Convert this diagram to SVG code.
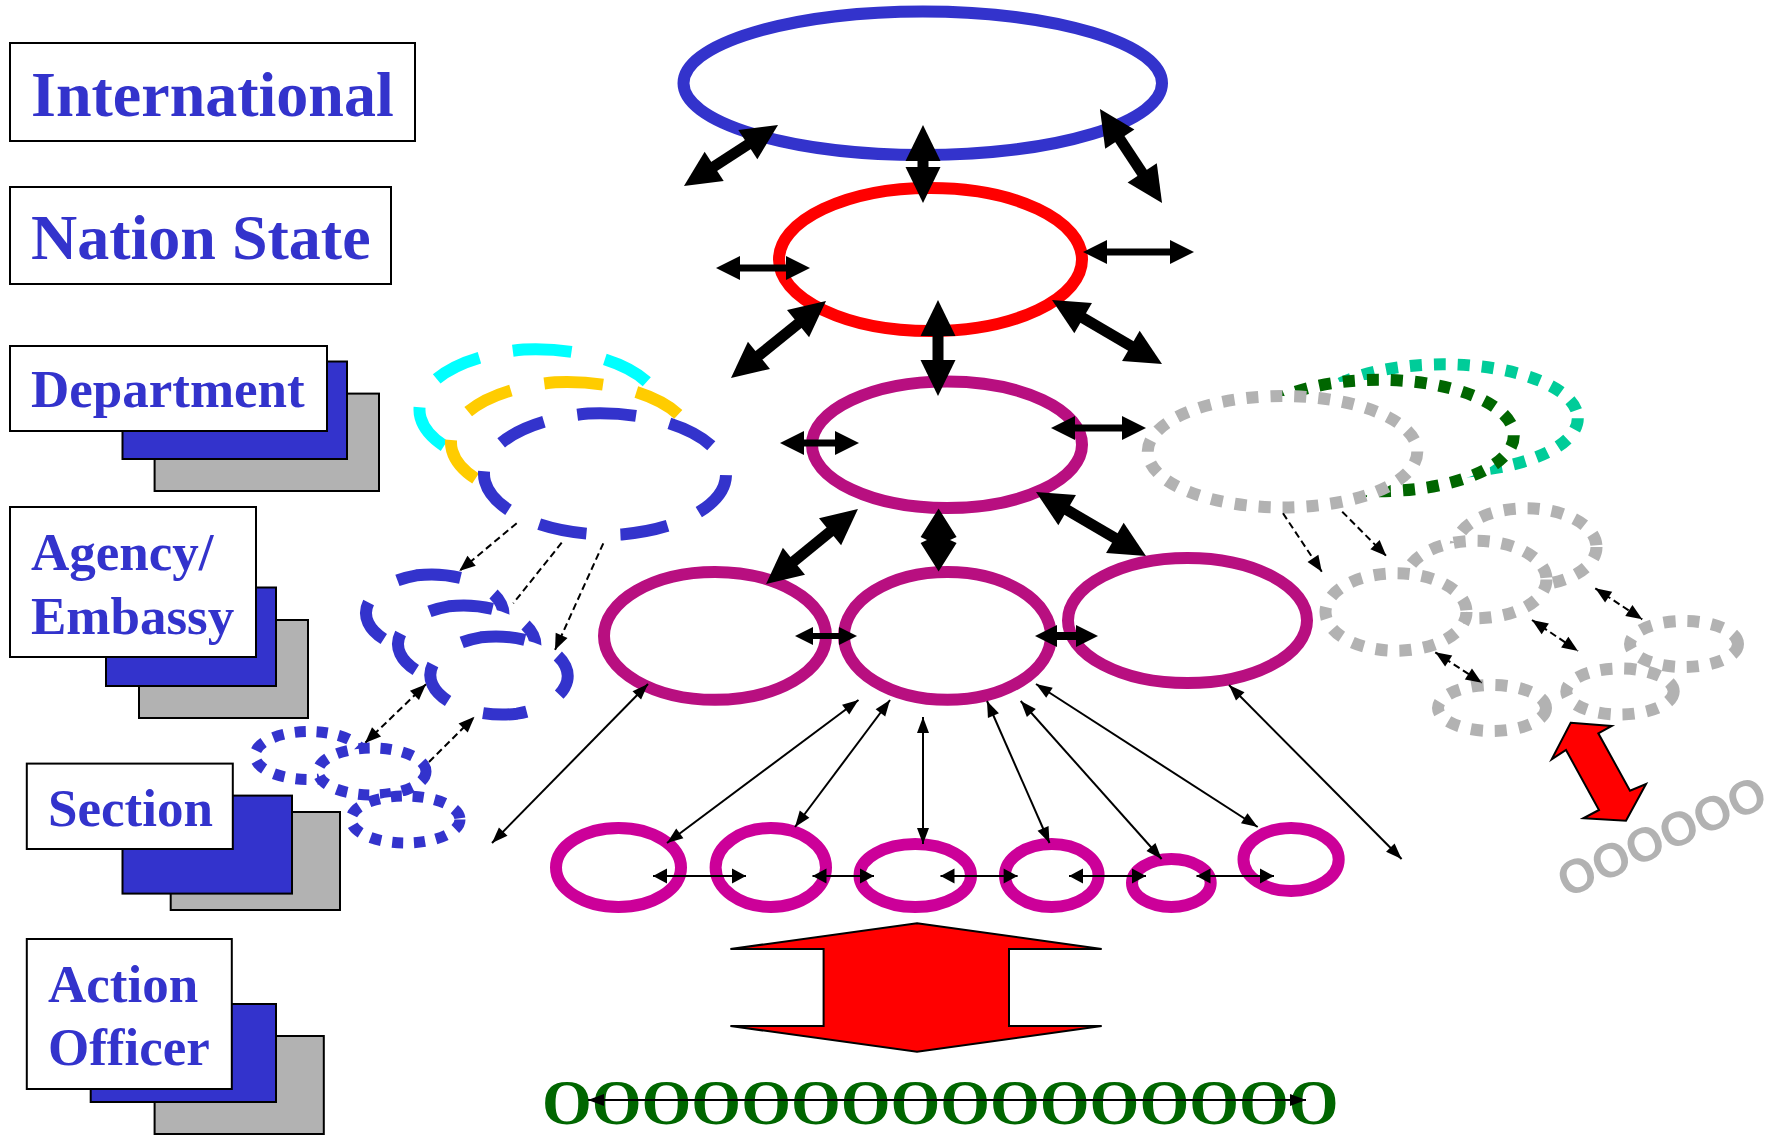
<svg xmlns="http://www.w3.org/2000/svg" width="1773" height="1135" viewBox="0 0 1773 1135">
<style>
.box{stroke:#000;stroke-width:2}
.w{fill:#fff}
.b{fill:#3333CC}
.g{fill:#B2B2B2}
.lbl{font-family:"Liberation Serif","Times New Roman",serif;font-weight:bold;fill:#3333CC}
.ell{fill:none;stroke-width:12}
.dept{fill:#fff;stroke-width:12;stroke-dasharray:48 34}
.ag{fill:#fff;stroke:#3333CC;stroke-width:12;stroke-dasharray:44 37}
.sec{fill:#fff;stroke:#3333CC;stroke-width:11;stroke-dasharray:11 11}
.gdot{fill:#fff;stroke-width:12;stroke-dasharray:12 12}
.thick{stroke:#000;fill:none}
.thin{stroke:#000;stroke-width:2;fill:none}
.dash{stroke:#000;stroke-width:2;stroke-dasharray:7 4;fill:none}
</style>
<defs>
<marker id="mA" markerUnits="userSpaceOnUse" markerWidth="36" markerHeight="35" refX="2" refY="17.5" orient="auto-start-reverse" overflow="visible"><path d="M0,0 L36,17.5 L0,35 Z" fill="#000"/></marker>
<marker id="mB" markerUnits="userSpaceOnUse" markerWidth="24" markerHeight="24" refX="2" refY="12" orient="auto-start-reverse" overflow="visible"><path d="M0,0 L24,12 L0,24 Z" fill="#000"/></marker>
<marker id="mB5" markerUnits="userSpaceOnUse" markerWidth="18" markerHeight="18" refX="2" refY="9" orient="auto-start-reverse" overflow="visible"><path d="M0,0 L18,9 L0,18 Z" fill="#000"/></marker>
<marker id="mB6" markerUnits="userSpaceOnUse" markerWidth="22" markerHeight="22" refX="2" refY="11" orient="auto-start-reverse" overflow="visible"><path d="M0,0 L22,11 L0,22 Z" fill="#000"/></marker>
<marker id="mC" markerUnits="userSpaceOnUse" markerWidth="16" markerHeight="12" refX="16" refY="6" orient="auto-start-reverse" overflow="visible"><path d="M0,0 L16,6 L0,12 Z" fill="#000"/></marker>
<marker id="mR" markerUnits="userSpaceOnUse" markerWidth="14" markerHeight="15" refX="14" refY="7.5" orient="auto-start-reverse" overflow="visible"><path d="M0,0 L14,7.5 L0,15 Z" fill="#000"/></marker>
<marker id="mD" markerUnits="userSpaceOnUse" markerWidth="16" markerHeight="13" refX="16" refY="6.5" orient="auto-start-reverse" overflow="visible"><path d="M0,0 L16,6.5 L0,13 Z" fill="#000"/></marker>
</defs>

<g id="label-international">
<rect class="box w" x="10" y="43" width="405" height="98"/>
<text class="lbl" x="31" y="116" font-size="64">International</text>
</g>
<g id="label-nation-state">
<rect class="box w" x="10" y="187" width="381" height="97"/>
<text class="lbl" x="31" y="259" font-size="64">Nation State</text>
</g>
<g id="label-department">
<rect class="box g" x="154.6" y="393.6" width="224.4" height="97.4"/>
<rect class="box b" x="122.5" y="361.5" width="224.5" height="97.5"/>
<rect class="box w" x="10" y="346" width="317" height="85"/>
<text class="lbl" x="31" y="407" font-size="53">Department</text>
</g>
<g id="label-agency">
<rect class="box g" x="139" y="620" width="169" height="98"/>
<rect class="box b" x="106" y="587.5" width="170" height="98.5"/>
<rect class="box w" x="10" y="507" width="246" height="150"/>
<text class="lbl" x="31" y="570" font-size="53">Agency/</text>
<text class="lbl" x="31" y="633.6" font-size="53">Embassy</text>
</g>
<g id="label-section">
<rect class="box g" x="170.7" y="812" width="169.3" height="98"/>
<rect class="box b" x="122.5" y="795.6" width="169.5" height="98"/>
<rect class="box w" x="26.8" y="763.6" width="206" height="85.4"/>
<text class="lbl" x="48" y="826" font-size="53">Section</text>
</g>
<g id="label-action-officer">
<rect class="box g" x="154.6" y="1036" width="169.2" height="98"/>
<rect class="box b" x="90.7" y="1004" width="185.3" height="98"/>
<rect class="box w" x="26.8" y="939" width="205" height="150"/>
<text class="lbl" x="48" y="1002" font-size="53">Action</text>
<text class="lbl" x="48" y="1065" font-size="53">Officer</text>
</g>

<g id="dept-cluster">
<path class="dept" stroke="#00FFFF" d="M523.6,349.6 A126,61 0 0 1 557.4,470.4 A126,61 0 0 1 523.6,349.6 Z"/>
<path class="dept" stroke="#FFCC00" d="M555.1,382.3 A126,61 0 0 1 588.9,503.1 A126,61 0 0 1 555.1,382.3 Z"/>
<path class="dept" stroke="#3333CC" d="M588.1,413.6 A126,61 0 0 1 621.9,534.4 A126,61 0 0 1 588.1,413.6 Z"/>
</g>
<g id="agency-cluster">
<path class="ag" d="M416.7,575.3 A72,39.5 0 0 1 452.7,651.7 A72,39.5 0 0 1 416.7,575.3 Z"/>
<path class="ag" d="M448.7,606.3 A72,39.5 0 0 1 484.7,682.7 A72,39.5 0 0 1 448.7,606.3 Z"/>
<path class="ag" d="M481,637.3 A72,39.5 0 0 1 517,713.7 A72,39.5 0 0 1 481,637.3 Z"/>
</g>
<g id="section-cluster">
<ellipse class="sec" cx="309" cy="755.5" rx="54" ry="24"/>
<ellipse class="sec" cx="372" cy="771.5" rx="54" ry="23.5"/>
<ellipse class="sec" cx="405.5" cy="819.5" rx="54.5" ry="23.5"/>
</g>

<g id="node-international"><ellipse class="ell" stroke="#3333CC" cx="922.75" cy="83.25" rx="239.25" ry="71.75"/></g>
<g id="node-nation"><ellipse class="ell" stroke="#FF0000" cx="930.5" cy="259.5" rx="151.5" ry="71.5"/></g>
<g id="node-department"><ellipse class="ell" stroke="#B80F80" cx="947" cy="444.75" rx="135" ry="63.25"/></g>
<g id="node-agency-1"><ellipse class="ell" stroke="#B80F80" cx="715" cy="635.9" rx="111" ry="63.9"/></g>
<g id="node-agency-2"><ellipse class="ell" stroke="#B80F80" cx="947.5" cy="635.9" rx="103.5" ry="63.9"/></g>
<g id="node-agency-3"><ellipse class="ell" stroke="#B80F80" cx="1187.5" cy="620.5" rx="119.5" ry="62.5"/></g>
<g id="node-section-1"><ellipse class="ell" stroke="#CC0099" cx="618.5" cy="867.5" rx="62.5" ry="39.5"/></g>
<g id="node-section-2"><ellipse class="ell" stroke="#CC0099" cx="770.8" cy="867.5" rx="55.2" ry="39.5"/></g>
<g id="node-section-3"><ellipse class="ell" stroke="#CC0099" cx="915.25" cy="875.5" rx="55.75" ry="31.5"/></g>
<g id="node-section-4"><ellipse class="ell" stroke="#CC0099" cx="1051.8" cy="875.5" rx="46.8" ry="31.5"/></g>
<g id="node-section-5"><ellipse class="ell" stroke="#CC0099" cx="1171.35" cy="883" rx="39.35" ry="24"/></g>
<g id="node-section-6"><ellipse class="ell" stroke="#CC0099" cx="1291.1" cy="859.5" rx="47.6" ry="31.5"/></g>

<g id="gray-dept-cluster">
<ellipse class="gdot" stroke="#00CC99" cx="1443" cy="418.3" rx="134.8" ry="54"/>
<ellipse class="gdot" stroke="#006600" cx="1379" cy="435.5" rx="134.8" ry="55.7"/>
<ellipse class="gdot" stroke="#B2B2B2" cx="1282.5" cy="451.7" rx="134.8" ry="55.7"/>
</g>
<g id="gray-agency-cluster">
<ellipse class="gdot" stroke="#B2B2B2" cx="1526" cy="547" rx="70.5" ry="38.7"/>
<ellipse class="gdot" stroke="#B2B2B2" cx="1476" cy="579.5" rx="70.5" ry="38.7"/>
<ellipse class="gdot" stroke="#B2B2B2" cx="1396" cy="612" rx="70.5" ry="38.7"/>
</g>
<g id="gray-section-cluster">
<ellipse class="gdot" stroke="#B2B2B2" cx="1684" cy="644" rx="54" ry="23"/>
<ellipse class="gdot" stroke="#B2B2B2" cx="1620" cy="691.5" rx="53.7" ry="23"/>
<ellipse class="gdot" stroke="#B2B2B2" cx="1492" cy="708" rx="54" ry="23"/>
</g>

<g id="individuals-gray">
<text transform="translate(1567,898.6) rotate(-24.8)" font-family="'Liberation Sans',Arial,sans-serif" font-weight="bold" font-size="48" fill="#B2B2B2">OOOOOO</text>
</g>
<g id="individuals-green">
<text x="542" y="1124" font-family="'Liberation Serif','Times New Roman',serif" font-weight="bold" font-size="64" fill="#006600">OOOOOOOOOOOOOOOO</text>
</g>

<g id="connectors">
<line class="thick" stroke-width="11" x1="712.5" y1="167.5" x2="749.5" y2="143.5" marker-start="url(#mA)" marker-end="url(#mA)"/>
<line class="thick" stroke-width="11" x1="923" y1="159" x2="923" y2="169" marker-start="url(#mA)" marker-end="url(#mA)"/>
<line class="thick" stroke-width="11" x1="1118.7" y1="137.4" x2="1143.3" y2="174.6" marker-start="url(#mA)" marker-end="url(#mA)"/>
<line class="thick" stroke-width="11" x1="757.4" y1="356.6" x2="799.6" y2="322.4" marker-start="url(#mA)" marker-end="url(#mA)"/>
<line class="thick" stroke-width="11" x1="938" y1="334" x2="938" y2="362" marker-start="url(#mA)" marker-end="url(#mA)"/>
<line class="thick" stroke-width="11" x1="1081.4" y1="317.1" x2="1132.6" y2="346.9" marker-start="url(#mA)" marker-end="url(#mA)"/>
<line class="thick" stroke-width="11" x1="792.4" y1="562.5" x2="831.6" y2="530.5" marker-start="url(#mA)" marker-end="url(#mA)"/>
<polygon points="938.6,508.6 956.6,537 950,540 956.6,543 938.6,571.5 920.6,543 927,540 920.6,537" fill="#000"/>
<line class="thick" stroke-width="11" x1="1065.4" y1="509.1" x2="1116.6" y2="538.9" marker-start="url(#mA)" marker-end="url(#mA)"/>

<line class="thick" stroke-width="7" x1="738" y1="268" x2="788" y2="268" marker-start="url(#mB)" marker-end="url(#mB)"/>
<line class="thick" stroke-width="7" x1="1105" y1="252" x2="1172" y2="252" marker-start="url(#mB)" marker-end="url(#mB)"/>
<line class="thick" stroke-width="7" x1="802" y1="443" x2="837" y2="443" marker-start="url(#mB)" marker-end="url(#mB)"/>
<line class="thick" stroke-width="7" x1="1073" y1="428" x2="1124" y2="428" marker-start="url(#mB)" marker-end="url(#mB)"/>
<line class="thick" stroke-width="6" x1="811" y1="636" x2="841" y2="636" marker-start="url(#mB5)" marker-end="url(#mB5)"/>
<line class="thick" stroke-width="8" x1="1055" y1="636" x2="1078" y2="636" marker-start="url(#mB6)" marker-end="url(#mB6)"/>

<line class="thin" x1="648" y1="684" x2="492" y2="843" marker-start="url(#mC)" marker-end="url(#mC)"/>
<line class="thin" x1="858.5" y1="700" x2="667" y2="843" marker-start="url(#mC)" marker-end="url(#mC)"/>
<line class="thin" x1="890" y1="700" x2="795" y2="827" marker-start="url(#mC)" marker-end="url(#mC)"/>
<line class="thin" x1="923" y1="717" x2="923" y2="844" marker-start="url(#mC)" marker-end="url(#mC)"/>
<line class="thin" x1="987" y1="701" x2="1049.5" y2="843" marker-start="url(#mC)" marker-end="url(#mC)"/>
<line class="thin" x1="1020.7" y1="701" x2="1161.6" y2="859" marker-start="url(#mC)" marker-end="url(#mC)"/>
<line class="thin" x1="1036" y1="684" x2="1257.7" y2="827" marker-start="url(#mC)" marker-end="url(#mC)"/>
<line class="thin" x1="1229" y1="685" x2="1401.6" y2="859" marker-start="url(#mC)" marker-end="url(#mC)"/>

<line class="thin" stroke-width="3" x1="653" y1="876" x2="746" y2="876" marker-start="url(#mR)" marker-end="url(#mR)"/>
<line class="thin" stroke-width="3" x1="812.5" y1="876" x2="874" y2="876" marker-start="url(#mR)" marker-end="url(#mR)"/>
<line class="thin" stroke-width="3" x1="940.5" y1="876" x2="1017.6" y2="876" marker-start="url(#mR)" marker-end="url(#mR)"/>
<line class="thin" stroke-width="3" x1="1069" y1="876" x2="1146" y2="876" marker-start="url(#mR)" marker-end="url(#mR)"/>
<line class="thin" stroke-width="3" x1="1196.5" y1="876" x2="1274" y2="876" marker-start="url(#mR)" marker-end="url(#mR)"/>

<line class="dash" x1="516.7" y1="523.3" x2="459.3" y2="571" marker-end="url(#mD)"/>
<line class="dash" x1="561.7" y1="542.7" x2="513.3" y2="603.3"/>
<line class="dash" x1="603.3" y1="543.3" x2="555" y2="650" marker-end="url(#mD)"/>
<line class="dash" x1="426" y1="684.3" x2="365" y2="743" marker-start="url(#mD)" marker-end="url(#mD)"/>
<line class="dash" x1="429" y1="762" x2="474.5" y2="716.7" marker-end="url(#mD)"/>
<line class="dash" x1="1283" y1="513.3" x2="1321.8" y2="571.7" marker-end="url(#mD)"/>
<line class="dash" x1="1342.2" y1="511.7" x2="1386.3" y2="556" marker-end="url(#mD)"/>
<line class="dash" x1="1435.3" y1="652.3" x2="1481.8" y2="682.7" marker-start="url(#mD)" marker-end="url(#mD)"/>
<line class="dash" x1="1532" y1="620" x2="1578" y2="651" marker-start="url(#mD)" marker-end="url(#mD)"/>
<line class="dash" x1="1595.3" y1="588.3" x2="1642.2" y2="619.3" marker-start="url(#mD)" marker-end="url(#mD)"/>

<line class="thin" stroke-width="3" x1="588" y1="1100" x2="1306" y2="1100" marker-start="url(#mC)" marker-end="url(#mC)"/>

<polygon points="917,923.3 1101.7,949 1009,949 1009,1026 1101.7,1026 917,1051.7 730.4,1026 823.6,1026 823.6,949 730.4,949" fill="#FF0000" stroke="#000" stroke-width="2" stroke-linejoin="miter"/>
<polygon points="1570.7,722.7 1611.7,726 1598.3,733.3 1630,790.7 1646,784 1626,820.7 1583.3,818.3 1599,810 1566,750 1551.7,759.3" fill="#FF0000" stroke="#000" stroke-width="2"/>
</g>
</svg>
